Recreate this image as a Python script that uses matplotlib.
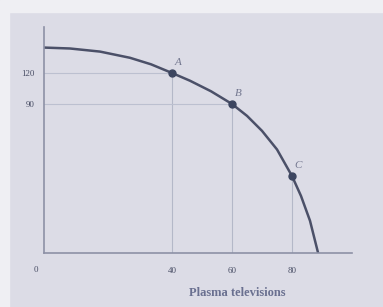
import numpy as np
import matplotlib
matplotlib.use("Agg")
import matplotlib.pyplot as plt
from matplotlib.patches import Rectangle

# production possibilities frontier (schematic scale)
curve_x = [-2.67, 6, 16, 26, 33, 40, 46, 53, 60, 65, 70, 75, 80, 83, 86, 88.7]
curve_y = [144.6, 143.7, 140.7, 134.7, 128.4, 120, 112.5, 102.3, 90, 78.5, 64, 46, 20.3, 1, -23, -54.2]

# labelled points
pt_names = ["A", "B", "C"]
pt_x = [40, 60, 80]
pt_y = [120, 90, 20.3]

xticks = [40, 60, 80]
yticks = [120, 90]

plt.rcParams['font.family'] = ['Liberation Serif', 'DejaVu Serif']

fig = plt.figure(figsize=(3.83, 3.07), dpi=100)
fig.patch.set_facecolor('#dcdce6')
# whiter strips of the photo at the top and left
fig.patches.append(Rectangle((0, 1 - 12/307), 1, 12/307, transform=fig.transFigure,
                             color='#efeff3', zorder=0))
fig.patches.append(Rectangle((0, 0), 9/383, 1, transform=fig.transFigure,
                             color='#efeff3', zorder=0))

ax = fig.add_axes([44/383, 54/307, 308/383, 226/307])
ax.set_facecolor('none')
ax.set_xlim(-2.67, 100)
ax.set_ylim(-54.2, 164.5)

for s in ['top', 'right']:
    ax.spines[s].set_visible(False)
for s in ['left', 'bottom']:
    ax.spines[s].set_color('#8d91a6')
    ax.spines[s].set_linewidth(1.2)

# guide lines
for x, y in zip(pt_x, pt_y):
    ax.plot([x, x], [-54.2, y], color='#b4b8c8', lw=0.8, zorder=1)
for x, y in zip(pt_x[:2], pt_y[:2]):
    ax.plot([-2.67, x], [y, y], color='#bcc0d0', lw=0.8, zorder=1)

ax.plot(curve_x, curve_y, color='#4b5068', lw=1.8, solid_capstyle='round',
        solid_joinstyle='round', zorder=2)
ax.plot(pt_x, pt_y, 'o', color='#3c4560', ms=5, zorder=3)

for name, x, y in zip(pt_names, pt_x, pt_y):
    ax.annotate(name, (x, y), xytext=(2, 6), textcoords='offset points',
                fontsize=8, style='italic', color='#747890')

ax.set_xticks(xticks)
ax.set_yticks(yticks)
ax.tick_params(length=0, labelsize=6.5, labelcolor='#4a4f66')
ax.tick_params(axis='x', pad=10)
ax.tick_params(axis='y', pad=7)

ax.text(-0.025, -0.075, "0", transform=ax.transAxes, fontsize=6.5,
        color='#4a4f66', ha='center', va='center')
ax.set_xlabel("Plasma televisions", fontsize=9, color='#6a7090', fontweight='bold')
ax.xaxis.set_label_coords(193/308, -34/226)

fig.savefig("out.png", dpi=100, facecolor=fig.get_facecolor())
